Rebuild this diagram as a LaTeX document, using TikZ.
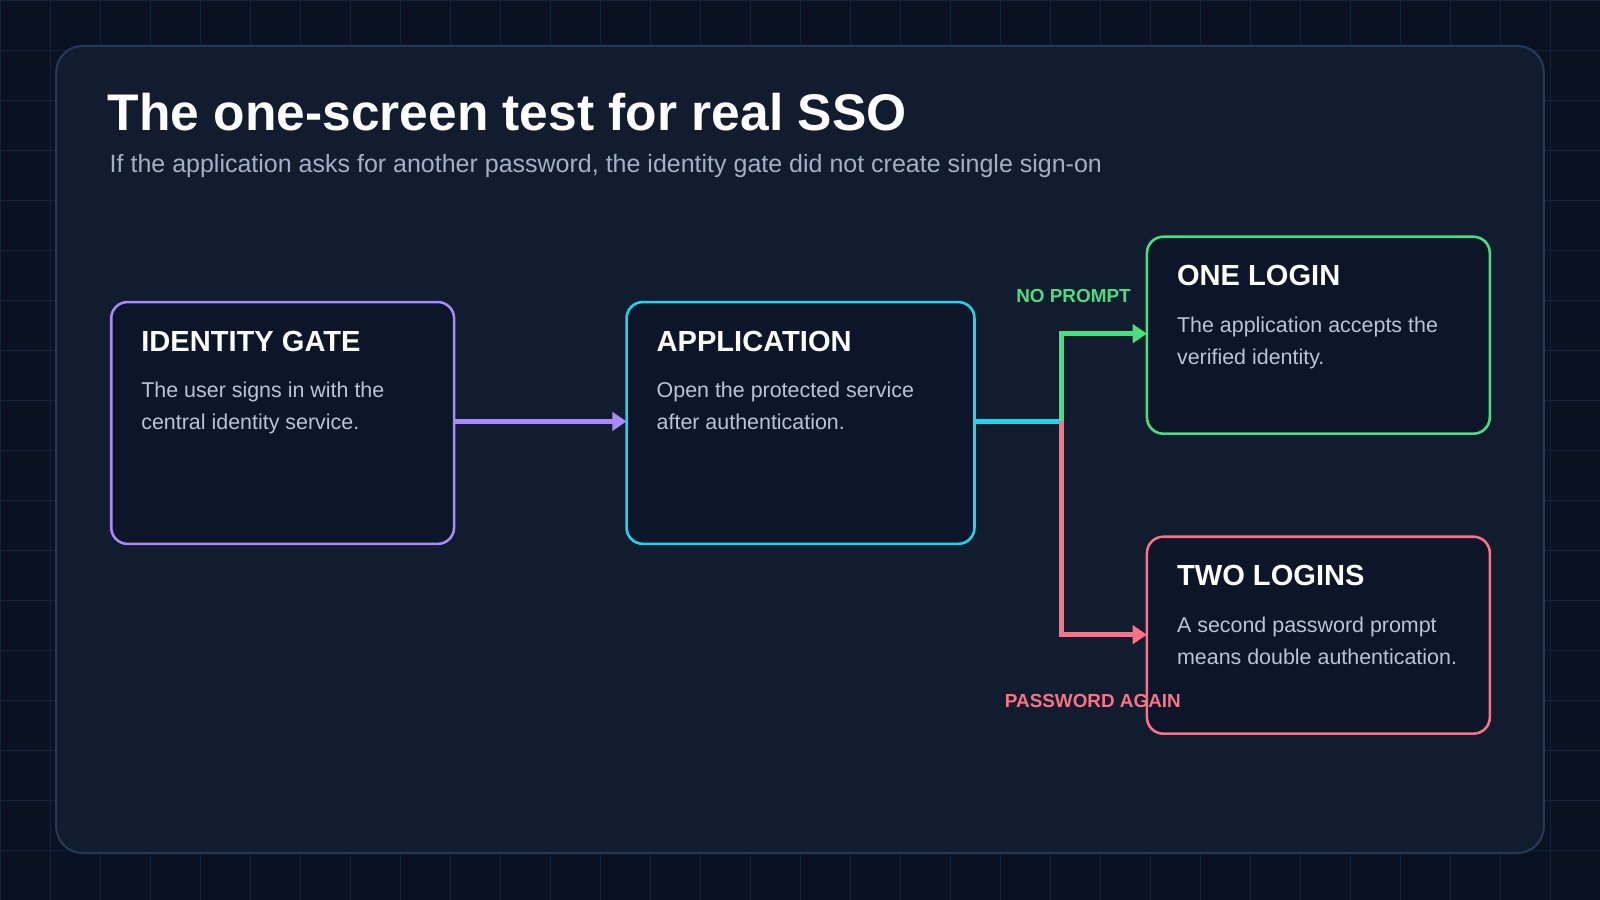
\documentclass[tikz,border=0pt]{standalone}
\usepackage{fontspec}
\setmainfont{Liberation Sans}
\usetikzlibrary{arrows.meta}
\definecolor{bgdark}{HTML}{0A1120}
\definecolor{gridc}{HTML}{16223A}
\definecolor{panel}{HTML}{111C2F}
\definecolor{panelb}{HTML}{26395A}
\definecolor{boxfill}{HTML}{0C1628}
\definecolor{cpurple}{HTML}{A78BFA}
\definecolor{ccyan}{HTML}{22D3EE}
\definecolor{cgreen}{HTML}{4ADE80}
\definecolor{cred}{HTML}{FB7185}
\definecolor{subgrey}{HTML}{A3B1C6}
\definecolor{bodygrey}{HTML}{BAC4D3}
\begin{document}
\begin{tikzpicture}[x=1pt, y=-1pt,
  card/.style={draw=#1, line width=2.5pt, fill=boxfill, rounded corners=16pt},
  heading/.style={anchor=base west, text=white, font=\fontsize{28.5}{32}\selectfont\bfseries},
  body/.style={anchor=base west, text=bodygrey, font=\fontsize{21}{31}\selectfont, align=left},
  flow/.style={draw=#1, line width=4.5pt},
  tag/.style={text=#1, font=\fontsize{18.5}{20}\selectfont\bfseries},
  tip/.style={-{Triangle[length=14pt,width=18pt]}}]
			\fill[bgdark] (0,0) rectangle (1568,882);
			\useasboundingbox (0,0) rectangle (1568,882);
			\foreach \i in {0,...,32} \draw[gridc, line width=0.8pt] (\i*49,0) -- (\i*49,882);
			\foreach \j in {0,...,18} \draw[gridc, line width=0.8pt] (0,\j*49) -- (1568,\j*49);
			\draw[panelb, fill=panel, line width=2pt, rounded corners=26pt] (55,45) rectangle (1513,836);

			\node[anchor=base west, text=white, font=\fontsize{50.5}{54}\selectfont\bfseries] (title) at (102,128) {The one-screen test for real SSO};
			\node[anchor=base west, text=subgrey, font=\fontsize{24.5}{28}\selectfont] (subtitle) at (104,169) {If the application asks for another password, the identity gate did not create single sign-on};

			% cards
			\draw[card=cpurple] (109,296) rectangle (445,533);
			\draw[card=ccyan] (614,296) rectangle (955,533);
			\draw[card=cgreen] (1124,232) rectangle (1460,425);
			\draw[card=cred] (1124,526) rectangle (1460,719);
			\coordinate (gateE) at (445,413);
			\coordinate (appW) at (614,413);
			\coordinate (appE) at (955,413);
			\coordinate (split) at (1040,413);
			\coordinate (oneW) at (1124,327);
			\coordinate (twoW) at (1124,622);

			\node[heading] (gatehead) at (135,344) {IDENTITY GATE};
			\node[body] (gatetext) at (135,421) {The user signs in with the\\central identity service.};
			\node[heading] (apphead) at (640,344) {APPLICATION};
			\node[body] (apptext) at (640,421) {Open the protected service\\after authentication.};
			\node[heading] (onehead) at (1150,280) {ONE LOGIN};
			\node[body] (onetext) at (1150,357) {The application accepts the\\verified identity.};
			\node[heading] (twohead) at (1150,574) {TWO LOGINS};
			\node[body] (twotext) at (1150,651) {A second password prompt\\means double authentication.};

			% connectors
			\draw[flow=cpurple, tip] (gateE) -- (appW);
			\draw[flow=ccyan] (appE) -- (split);
			\draw[flow=cgreen, tip] (split) |- (oneW);
			\draw[flow=cred, tip] (split) |- (twoW);
			\node[tag=cgreen] (noprompt) at (1052,290) {NO PROMPT};
			\node[tag=cred] (again) at (1071,687) {PASSWORD AGAIN};
		\end{tikzpicture}
\end{document}
